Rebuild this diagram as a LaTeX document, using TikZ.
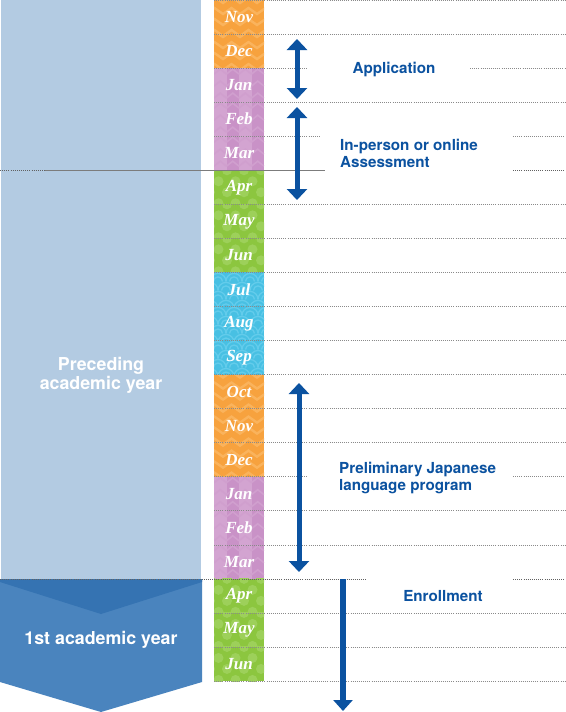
\documentclass[tikz,border=0pt]{standalone}
\usepackage{fontspec}
\newfontfamily\heros{TeX Gyre Heros}
\newfontfamily\monthfont{Liberation Serif}
\usetikzlibrary{arrows.meta}
\definecolor{lblue}{HTML}{B3CBE2}
\definecolor{chev}{HTML}{4A84BE}
\definecolor{chevdark}{HTML}{3573B2}
\definecolor{corange}{HTML}{F7A23E}
\definecolor{corangep}{HTML}{FAB35C}
\definecolor{cpurple}{HTML}{C992C7}
\definecolor{cpurplep}{HTML}{D3A4D1}
\definecolor{cgreen}{HTML}{8CC63F}
\definecolor{cgreenp}{HTML}{9DD05A}
\definecolor{ccyan}{HTML}{48C0E3}
\definecolor{ccyanp}{HTML}{63CCEB}
\definecolor{dblue}{HTML}{0B52A0}
\definecolor{dotgray}{HTML}{8A8A8A}
\tikzset{
  dotline/.style={draw=dotgray, line width=0.6pt, dash pattern=on 0.8pt off 1.3pt},
  solidline/.style={draw=dotgray!90!black, line width=0.6pt},
  monthlbl/.style={text=white, font=\monthfont\bfseries\itshape\fontsize{17}{17}\selectfont, inner sep=0pt},
  bluelbl/.style={text=dblue, font=\heros\bfseries\fontsize{15.2}{17}\selectfont, inner sep=0pt, align=left},
  whitelbl/.style={text=white, font=\heros\bfseries\fontsize{17.8}{19}\selectfont, inner sep=0pt, align=center},
  dblarrow/.style={draw=dblue, line width=5pt, {Triangle[width=20pt,length=11pt]}-{Triangle[width=20pt,length=11pt]}},
  sglarrow/.style={draw=dblue, line width=6.5pt, -{Triangle[width=19pt,length=11pt]}},
}
\def\rh{34.05}
\begin{document}
\begin{tikzpicture}[x=1pt,y=-1pt]
\useasboundingbox (0,0) rectangle (565,712);
\fill[white] (0,0) rectangle (565,712);
% left column
\fill[lblue] (1,0) rectangle (201,579);
\node[whitelbl] (prec) at (101,375) {Preceding\\academic year};
% chevron
\fill[chev] (0,579) -- (202,579) -- (202,682) -- (101,712) -- (0,682) -- cycle;
\fill[chevdark] (0,579) -- (202,579) -- (202,582) -- (101,614) -- (0,582) -- cycle;
\node[whitelbl] (first) at (101,640) {1st academic year};
% orange cells
\foreach \r in {0,1,11,12,13} {
  \begin{scope}
    \clip (214,{\r*\rh}) rectangle (264,{(\r+1)*\rh});
    \fill[corange] (214,{\r*\rh}) rectangle (264,{(\r+1)*\rh});
    \foreach \k in {0,...,4}
      \draw[corangep, line width=2.4pt] (206,{\r*\rh+\k*11+3}) \foreach \j in {0,...,3} { -- ++(8.5,-6) -- ++(8.5,6)};
  \end{scope}
}
% purple cells
\foreach \r in {2,3,4,14,15,16} {
  \begin{scope}
    \clip (214,{\r*\rh}) rectangle (264,{(\r+1)*\rh});
    \fill[cpurple] (214,{\r*\rh}) rectangle (264,{(\r+1)*\rh});
    \foreach \s in {0,2} \fill[cpurplep] ({214+\s*12.5},{\r*\rh}) rectangle ({226.5+\s*12.5},{(\r+1)*\rh});
    \foreach \s in {0,...,3}
      \foreach \k in {0,...,3}
        \draw[cpurplep!70!cpurple, line width=1.6pt] ({214+\s*12.5},{\r*\rh+\k*12+6}) -- ++(6.25,-5) -- ++(6.25,5);
  \end{scope}
}
% green cells
\foreach \r in {5,6,7,17,18,19} {
  \begin{scope}
    \clip (214,{\r*\rh}) rectangle (264,{(\r+1)*\rh});
    \fill[cgreen] (214,{\r*\rh}) rectangle (264,{(\r+1)*\rh});
    \foreach \k in {0,...,3}
      \foreach \j in {0,...,4}
        \fill[cgreenp] ({210+\j*17+mod(\k,2)*8.5},{\r*\rh+\k*11}) circle[radius=5];
  \end{scope}
}
% cyan cells
\foreach \r in {8,9,10} {
  \begin{scope}
    \clip (214,{\r*\rh}) rectangle (264,{(\r+1)*\rh});
    \fill[ccyan] (214,{\r*\rh}) rectangle (264,{(\r+1)*\rh});
    \foreach \k in {0,...,4}
      \foreach \j in {0,...,4} {
        \draw[ccyanp, line width=1.3pt] ({210+\j*16+mod(\k,2)*8-8},{\r*\rh+\k*9}) arc[start angle=180, end angle=360, radius=8];
        \draw[ccyanp, line width=1.3pt] ({210+\j*16+mod(\k,2)*8-4.5},{\r*\rh+\k*9}) arc[start angle=180, end angle=360, radius=4.5];
      }
  \end{scope}
}
% month labels
\foreach \m [count=\i from 0] in {Nov,Dec,Jan,Feb,Mar,Apr,May,Jun,Jul,Aug,Sep,Oct,Nov,Dec,Jan,Feb,Mar,Apr,May,Jun}
  \node[monthlbl] (m\i) at (239,{(\i+0.5)*\rh}) {\m};
% horizontal guide lines
\draw[dotline] (214,0.5) -- (565,0.5);
\foreach \k in {1,3,6,7,8,9,10,11,12,13,15,16,18,19,20}
  \draw[dotline] (214,{\k*\rh}) -- (565,{\k*\rh});
\draw[dotline] (214,{2*\rh}) -- (308,{2*\rh});
\draw[dotline] (470,{2*\rh}) -- (565,{2*\rh});
\draw[dotline] (214,{4*\rh}) -- (321,{4*\rh});
\draw[dotline] (513,{4*\rh}) -- (565,{4*\rh});
\draw[dotline, draw=dotgray!70!black] (0,{5*\rh}) -- (45,{5*\rh});
\draw[solidline] (45,{5*\rh}) -- (325,{5*\rh});
\draw[dotline, draw=dotgray!70!black] (513,{5*\rh}) -- (565,{5*\rh});
\draw[dotline] (214,{14*\rh}) -- (308,{14*\rh});
\draw[dotline] (513,{14*\rh}) -- (565,{14*\rh});
\draw[dotline, draw=dotgray!70!black] (0,{17*\rh}) -- (367,{17*\rh});
\draw[dotline, draw=dotgray!70!black] (513,{17*\rh}) -- (565,{17*\rh});
% arrows
\coordinate (appT) at (297,39);
\coordinate (appB) at (297,99);
\coordinate (assT) at (297,107);
\coordinate (assB) at (297,200);
\coordinate (preT) at (299,383);
\coordinate (preB) at (299,572);
\coordinate (enrT) at (343,579);
\coordinate (enrB) at (343,711);
\draw[dblarrow] (appT) -- (appB);
\draw[dblarrow] (assT) -- (assB);
\draw[dblarrow] (preT) -- (preB);
\draw[sglarrow] (enrT) -- (enrB);
% labels
\node[bluelbl] (app) at (394,69) {Application};
\node[bluelbl, anchor=west] (ass) at (340,153) {In-person or online\\Assessment};
\node[bluelbl, anchor=west] (pre) at (339,478) {Preliminary Japanese\\language program};
\node[bluelbl] (enr) at (443,596) {Enrollment};
\end{tikzpicture}
\end{document}
